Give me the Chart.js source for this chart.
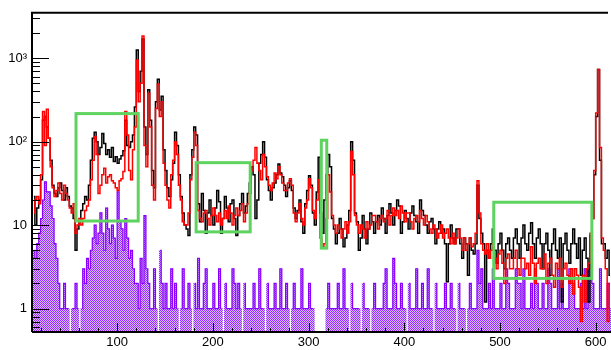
<!DOCTYPE html>
<html>
<head>
<meta charset="utf-8">
<script src="https://cdn.jsdelivr.net/npm/chart.js@4/dist/chart.umd.min.js"></script>
<style>
body { margin: 0; background: #fff; }
canvas { display: block; }
</style>
</head>
<body>
<canvas id="grafico" width="611" height="350"></canvas>
<script>
// histogram binning (bin edges start at binStart, width binWidth)
const binStart = 12, binWidth = 2;

const blackCounts = [
  22,10, 16,20, 35,180, 200,150, 110,60, 30,24, 22,28, 32,26, 20,28, 22,17,
  16,12, 5,9, 11,15, 18,22, 20,30, 60,110, 130,100, 70,85, 125,95, 70,80,
  65,85, 58,66, 55,62, 68,78, 180,90, 85,100, 120,260, 1250,400, 700,1700, 150,70,
  420,180, 45,28, 300,560, 240,350, 80,45, 28,22, 35,55, 130,90, 40,22, 14,10,
  9,7.5, 40,80, 150,120, 18,11, 24,15, 8,14, 20,13, 10,16, 26,19, 8,12,
  22,16, 11,18, 20,12, 7.5,13, 18,24, 14,17, 24,32, 50,40, 12,20, 55,70,
  100,65, 35,26, 20,28, 32,40, 54,42, 38,30, 22,28, 34,26, 16,12, 15,20,
  11,8, 18,26, 39,30, 14,10, 25,65, 14,8, 20,40, 70,50, 12,9, 6,8,
  12,9, 5.5,7, 10,15, 100,60, 14,11, 5,7, 13,9, 6,9, 14,11, 8,11,
  13,10, 16,12, 8,13, 18,14, 10,15, 20,17, 8,11, 15,12, 9,14, 17,13,
  11,8, 20,15, 13,10, 8,11, 12,9, 6,9, 11,8, 9,6, 2.1,6, 10,7,
  6,9, 9,6, 4,7, 6,2.5, 7,5, 4.5,6, 30,12, 8,6, 1.2,5, 4,6,
  9,5, 3.5,6, 8,5, 3,6, 7,5, 4,7, 9,6, 4,7, 10,6, 5,8,
  10.7,6, 4,7, 9,6, 3,6, 8,5, 2.5,6, 9,5, 4,7, 1.2,6, 8,5,
  3.5,6, 9,6, 4,7, 2.5,5, 7,4, 1.2,7.5, 12,40, 200,730, 60,6, 6,4,
  5,2.5
];

const redCounts = [
  14,20, 22,18, 40,230, 90,245, 110,50, 28,22, 26,32, 24,20, 30,24, 20,16,
  14,18, 8,10, 12,10, 12,15, 17,20, 35,60, 115,70, 24,30, 40,48, 32,38,
  40,34, 32,28, 26,34, 36,44, 230,120, 45,35, 80,150, 950,300, 500,1850, 90,50,
  380,150, 30,20, 250,490, 200,300, 55,30, 20,16, 40,60, 100,70, 30,20, 11,10,
  10,14, 35,65, 130,90, 15,12, 11,14, 15,12, 10,13, 16,13, 11,14, 10,12,
  15,12, 17,14, 10,13, 16,13, 15,18, 11,14, 18,24, 45,60, 85,55, 45,35,
  70,50, 38,30, 26,32, 42,36, 50,40, 32,26, 26,32, 36,30, 14,11, 14,18,
  12,10, 16,20, 36,28, 15,12, 20,35, 7,5.5, 6,12, 40,25, 13,10, 8,10,
  9,7, 9,11, 8,11, 76,40, 13,10, 8,10, 9,7, 11,9, 10,13, 13,11,
  9,12, 13,11, 12,15, 10,13, 16,13, 15,12, 17,14, 11,14, 14,11, 9,12,
  13,11, 15,12, 10,13, 11,9, 8,10, 9,7, 8,10, 7,8, 9,7, 6,8,
  6,7, 9,7, 5,7, 5,6, 7,5.5, 6,8, 34,14, 6,5, 4.5,6, 4,5,
  6,4, 3,4.5, 5,3.5, 2,4, 4.5,3, 3,4, 5,3, 2.5,4, 4,3, 3.5,2.5,
  5.5,3.5, 2,3.5, 4,3, 3,4.5, 2,3.5, 4,2.5, 1.8,3.5, 3,4, 1.8,3, 3.5,2.5,
  2,3, 1.5,3, 2.5,1.8, 0.7,2.5, 1.2,3, 3.5,8, 12,45, 220,730, 85,7, 5,3,
  0.7,2
];

const purpleCounts = [
  5,4, 6,8, 12,20, 33,25, 25,17, 12,6, 4,2, 1,1, 2,1, 1,0,
  1,1, 2,1, 0,1, 3,2, 4,3, 5,7, 10,6, 8,14, 8,5, 16,9,
  6,10, 7,4, 25,11, 9,5, 12,7, 4,5, 3,2, 2,1, 4,2, 13,3,
  2,1, 1,3, 1,0, 5,2, 1,2, 1,1, 3,1, 2,1, 0,1, 3,1,
  1,2, 1,0, 2,1, 4,1, 1,2, 3,1, 1,1, 2,1, 1,3, 1,0,
  2,1, 1,1, 3,2, 1,2, 1,0, 2,1, 1,1, 1,2, 1,1, 3,1,
  1,0, 2,1, 1,1, 2,1, 1,3, 1,1, 2,1, 0,1, 2,1, 1,1,
  3,1, 1,1, 2,1, 1,0, 0,0, 0,0, 0,1, 2,1, 1,1, 1,2,
  1,1, 3,1, 1,0, 2,1, 1,1, 1,0, 2,1, 1,1, 0,1, 2,1,
  1,1, 1,2, 3,1, 1,1, 4,2, 1,1, 2,1, 1,0, 2,1, 1,1,
  3,1, 1,2, 1,1, 3,1, 1,0, 2,1, 1,1, 1,2, 1,1, 2,1,
  1,0, 2,1, 1,1, 0,1, 2,1, 1,1, 5,2, 3,1, 1,1, 2,1,
  3,1, 1,1, 2,1, 1,3, 2,1, 1,1, 3,2, 2,1, 3,1, 1,1,
  2,1, 3,2, 1,1, 2,1, 1,3, 2,1, 1,1, 3,1, 2,1, 1,1,
  3,2, 2,1, 1,1, 2,1, 3,1, 3,4, 2,1, 1,1, 3,1, 1,1,
  2,1
];

const xTicks = [100, 200, 300, 400, 500, 600];
const yTicks = [1, 10, 100, 1000];
const yTickLabels = ['1', '10', '10²', '10³'];

// green selection boxes
const boxXmin = [57, 182.5, 313.3, 493.5];
const boxXmax = [122, 239, 319, 596];
const boxYmin = [11.2, 8.3, 5.3, 2.3];
const boxYmax = [217, 56, 104, 18.8];

const fuente = { family: '"Liberation Sans", Arial, sans-serif', size: 13 };

function aPuntos(valores) {
  return valores.map((v, i) => ({ x: binStart + binWidth * (i + 0.5), y: v > 0 ? v : null }));
}

// dotted fill like the ROOT hatch
const pc = document.createElement('canvas');
pc.width = 2; pc.height = 2;
const pg = pc.getContext('2d');
pg.fillStyle = '#dcb8ff'; pg.fillRect(0, 0, 2, 2);
pg.fillStyle = '#922eff'; pg.fillRect(0, 0, 1, 1); pg.fillRect(1, 1, 1, 1);
const patron = pg.createPattern(pc, 'repeat');

const marcos = {
  id: 'marcos',
  afterDatasetsDraw(c) {
    const ctx = c.ctx, xs = c.scales.x, ys = c.scales.y, a = c.chartArea;
    ctx.save();
    ctx.strokeStyle = '#5fd35f';
    ctx.lineWidth = 3;
    for (let i = 0; i < boxXmin.length; i++) {
      const x0 = xs.getPixelForValue(boxXmin[i]), x1 = xs.getPixelForValue(boxXmax[i]);
      const y0 = ys.getPixelForValue(boxYmax[i]), y1 = ys.getPixelForValue(boxYmin[i]);
      ctx.strokeRect(x0, y0, x1 - x0, y1 - y0);
    }
    // frame
    ctx.strokeStyle = '#000';
    ctx.lineWidth = 2;
    ctx.beginPath();
    ctx.moveTo(a.left, a.bottom); ctx.lineTo(a.left, a.top); ctx.lineTo(a.right - 3, a.top);
    ctx.moveTo(a.left, a.bottom); ctx.lineTo(a.right, a.bottom);
    ctx.stroke();
    // inner ticks
    ctx.lineWidth = 1;
    ctx.beginPath();
    for (let n = -1; n <= 3; n++) {
      for (let k = 1; k <= 9; k++) {
        const v = k * Math.pow(10, n);
        if (v < ys.min || v > ys.max) continue;
        const y = Math.round(ys.getPixelForValue(v)) + 0.5;
        ctx.moveTo(a.left, y); ctx.lineTo(a.left + (k === 1 ? 17 : 8), y);
      }
    }
    for (let v = 20; v <= 600; v += 20) {
      const x = Math.round(xs.getPixelForValue(v)) + 0.5;
      ctx.moveTo(x, a.bottom); ctx.lineTo(x, a.bottom - (v % 100 === 0 ? 9 : 4));
    }
    ctx.stroke();
    ctx.restore();
  }
};

new Chart(document.getElementById('grafico'), {
  type: 'line',
  data: {
    datasets: [
      {
        label: 'rojo', data: aPuntos(redCounts), borderColor: '#ff0000', borderWidth: 1.5,
        stepped: 'middle', pointRadius: 0, fill: false, order: 1
      },
      {
        label: 'negro', data: aPuntos(blackCounts), borderColor: '#000000', borderWidth: 1.5,
        stepped: 'middle', pointRadius: 0, fill: false, order: 2
      },
      {
        label: 'violeta borde', data: aPuntos(purpleCounts), borderColor: '#8a00ff', borderWidth: 1.2,
        stepped: 'middle', pointRadius: 0, fill: false, order: 3
      },
      {
        type: 'bar', label: 'violeta', data: aPuntos(purpleCounts), backgroundColor: patron,
        borderWidth: 0, barPercentage: 1, categoryPercentage: 1, order: 4
      }
    ]
  },
  options: {
    responsive: false,
    animation: false,
    devicePixelRatio: 1,
    layout: { padding: { top: 5, right: 0, bottom: 0, left: 0 } },
    plugins: { legend: { display: false }, tooltip: { enabled: false } },
    scales: {
      x: {
        type: 'linear', min: 11, max: 616, offset: false,
        grid: { display: false, drawTicks: false }, border: { display: false },
        afterBuildTicks: s => { s.ticks = xTicks.map(v => ({ value: v })); },
        afterFit: s => { s.height = 18; },
        ticks: { color: '#000', font: fuente, padding: 3, maxRotation: 0, autoSkip: false }
      },
      y: {
        type: 'logarithmic', min: 0.524, max: 3500,
        grid: { display: false, drawTicks: false }, border: { display: false },
        afterBuildTicks: s => { s.ticks = yTicks.map(v => ({ value: v })); },
        afterFit: s => { s.width = 32; },
        ticks: {
          color: '#000', font: fuente, padding: 5, autoSkip: false,
          callback: v => yTickLabels[yTicks.indexOf(v)]
        }
      }
    }
  },
  plugins: [marcos]
});
</script>
</body>
</html>
